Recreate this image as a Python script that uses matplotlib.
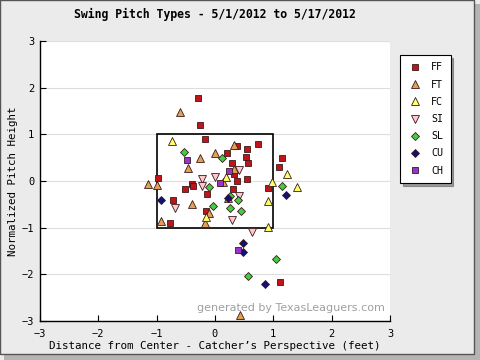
import matplotlib
matplotlib.use("Agg")
import matplotlib.pyplot as plt
from matplotlib.patches import Rectangle

title = "Swing Pitch Types - 5/1/2012 to 5/17/2012"
xlabel = "Distance from Center - Catcher\u2019s Perspective (feet)"
ylabel = "Normalized Pitch Height"
ticks = [-3, -2, -1, 0, 1, 2, 3]

ff_x = [-0.29, -0.25, -0.17, 0.21, 0.37, 0.74, 0.55, 0.53, 0.57, 0.29, 1.15, 1.10, 0.33, 0.55, -0.98, 0.38,
        -0.39, -0.37, -0.52, 0.31, 0.91, -0.14, -0.72, -0.16, -0.77, 1.12]
ff_y = [1.78, 1.19, 0.90, 0.59, 0.75, 0.80, 0.69, 0.52, 0.38, 0.38, 0.50, 0.29, 0.16, 0.04, 0.07, -0.01,
        -0.07, -0.11, -0.17, -0.18, -0.14, -0.27, -0.40, -0.65, -0.91, -2.17]
ft_x = [-0.60, 0.0, -0.25, 0.33, -0.47, 0.32, 0.13, -1.15, -1.0, -0.40, -0.10, -0.17, -0.92, 0.22, 0.43]
ft_y = [1.47, 0.61, 0.49, 0.78, 0.27, 0.26, -0.02, -0.06, -0.08, -0.50, -0.68, -0.90, -0.85, -0.36, -2.87]
fc_x = [-0.74, 0.19, 1.24, 0.97, 1.41, 0.91, -0.15, 0.91]
fc_y = [0.86, 0.09, 0.14, -0.03, -0.12, -0.43, -0.77, -0.98]
si_x = [-0.22, 0.0, 0.41, -0.22, 0.41, -0.69, 0.29, 0.64]
si_y = [0.04, 0.09, 0.24, -0.11, -0.32, -0.58, -0.84, -1.09]
sl_x = [-0.53, 0.12, -0.10, 1.15, 0.25, 0.40, -0.03, 0.26, 0.45, 1.04, 0.57]
sl_y = [0.63, 0.50, -0.13, -0.10, -0.32, -0.40, -0.54, -0.58, -0.65, -1.68, -2.04]
cu_x = [1.22, -0.93, 0.22, 0.48, 0.48, 0.85]
cu_y = [-0.29, -0.40, -0.37, -1.33, -1.53, -2.20]
ch_x = [-0.48, 0.24, 0.08, 0.40]
ch_y = [0.46, 0.21, -0.05, -1.48]

series = [
    ("FF", ff_x, ff_y, "s", "#c0141c", 5.0),
    ("FT", ft_x, ft_y, "^", "#e0a055", 6.2),
    ("FC", fc_x, fc_y, "^", "#ffff66", 6.2),
    ("SI", si_x, si_y, "v", "#ffc8d0", 6.2),
    ("SL", sl_x, sl_y, "D", "#44cc44", 3.6),
    ("CU", cu_x, cu_y, "D", "#10107a", 3.6),
    ("CH", ch_x, ch_y, "s", "#9933cc", 5.0),
]

mono = "DejaVu Sans Mono"
W, H = 480, 360
bg = "#ebebeb"
fig = plt.figure(figsize=(4.8, 3.6), dpi=100)
fig.patch.set_facecolor(bg)

# figure frame with shadow
fig.patches.append(Rectangle((4 / W, 0), 476 / W, 1 - 4 / H, transform=fig.transFigure,
                             facecolor="#b4b4b4", edgecolor="none", zorder=-3))
fig.patches.append(Rectangle((0, 6 / H), 474 / W, 354 / H, transform=fig.transFigure,
                             facecolor=bg, edgecolor="#555555", linewidth=1.0, zorder=-2))

ax = fig.add_axes([40 / W, 1 - 321 / H, 350 / W, 280 / H])
ax.set_facecolor("white")
ax.set_xlim(-3, 3)
ax.set_ylim(-3, 3)
ax.set_xticks(ticks)
ax.set_yticks(ticks)
labels = [("\u2212" if t < 0 else "") + str(abs(t)) for t in ticks]
ax.set_xticklabels(labels, fontfamily=mono, fontsize=7.5)
ax.set_yticklabels(labels, fontfamily=mono, fontsize=7.5)
ax.tick_params(direction="in", length=4, width=0.8, color="black")
ax.tick_params(axis="x", pad=6)
ax.tick_params(axis="y", pad=4)
for s in ["top", "right"]:
    ax.spines[s].set_visible(False)
ax.spines["left"].set_linewidth(1.0)
ax.spines["bottom"].set_linewidth(1.0)
ax.yaxis.grid(True, color="#dddddd", linewidth=0.8)
ax.set_axisbelow(True)

ax.add_patch(Rectangle((-1, -1), 2, 2, fill=False, edgecolor="black", linewidth=1.2, zorder=2))

for name, xs, ys, mk, col, ms in series:
    ax.plot(xs, ys, linestyle="none", marker=mk, markersize=ms, markerfacecolor=col,
            markeredgecolor="#3a1a1a", markeredgewidth=0.6, zorder=3, label=name)

ax.set_xlabel(xlabel, fontfamily=mono, fontsize=7.8, labelpad=1.5)
ax.set_ylabel(ylabel, fontfamily=mono, fontsize=7.8, labelpad=3)
fig.text(215 / W, 1 - 14 / H, title, ha="center", va="center", fontfamily=mono,
         fontsize=8.3, fontweight="bold")

ax.text(0.985, 0.045, "generated by TexasLeaguers.com", transform=ax.transAxes, ha="right",
        va="center", fontsize=8, color="#a0a0a0", zorder=1)

leg = ax.legend(loc="upper left", bbox_to_anchor=(400 / W, 1 - 55 / H), bbox_transform=fig.transFigure,
                prop={"family": mono, "size": 7.2}, frameon=True, fancybox=False, shadow=True,
                edgecolor="black", borderpad=0.75, labelspacing=0.72, handlelength=1.5,
                handletextpad=0.85, borderaxespad=0, numpoints=1)
leg.get_frame().set_linewidth(0.8)
leg.get_frame().set_edgecolor("black")

fig.savefig("out.png", dpi=100, facecolor=fig.get_facecolor())
